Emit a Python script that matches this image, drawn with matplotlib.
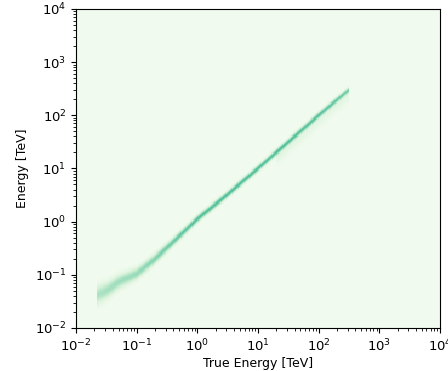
import numpy as np
import matplotlib
matplotlib.use("Agg")
import matplotlib.pyplot as plt
from matplotlib.colors import LinearSegmentedColormap

# ridge of the migration band (log10 TeV)
log_true = [-1.65, -1.5, -1.28, -1.0, -0.7, -0.4, 0.0, 0.4, 1.0, 2.0, 2.5]
log_reco = [-1.38, -1.3, -1.12, -0.98, -0.70, -0.38, 0.05, 0.42, 1.0, 2.0, 2.48]
width = [0.11, 0.10, 0.085, 0.07, 0.06, 0.05, 0.042, 0.04, 0.038, 0.038, 0.035]
peak = [0.42, 0.45, 0.48, 0.52, 0.60, 0.70, 0.80, 0.82, 0.82, 0.75, 0.65]

cmap = LinearSegmentedColormap.from_list(
    "band", ["#f1faee", "#d0efd4", "#9bdcbc", "#5ec4a3", "#3bb392"])

xe = np.linspace(-2, 4, 301)
ye = np.linspace(-2, 4, 301)
xc = 0.5 * (xe[1:] + xe[:-1])
yc = 0.5 * (ye[1:] + ye[:-1])
X, Y = np.meshgrid(xc, yc)

inside = (X >= log_true[0]) & (X <= log_true[-1])
mu = np.interp(X, log_true, log_reco)
w = np.interp(X, log_true, width)
a = np.interp(X, log_true, peak)
z = a * np.exp(-0.5 * ((Y - mu) / w) ** 2)
# faint scatter below the band at high energies
tail = np.where(X > 1.3, 0.12 * a * np.exp(-0.5 * ((Y - mu + 0.12) / 0.08) ** 2), 0)
z = np.where(inside, z + tail, 0)

fig = plt.figure(figsize=(4.48, 3.71), dpi=100)
ax = fig.add_axes([0.170, 0.116, 0.812, 0.860])
ax.pcolormesh(10 ** xe, 10 ** ye, z, cmap=cmap, vmin=0, vmax=1, rasterized=True)
ax.set_xscale("log")
ax.set_yscale("log")
ax.set_xlim(1e-2, 1e4)
ax.set_ylim(1e-2, 1e4)
ax.set_xlabel("True Energy [TeV]", fontsize=9, labelpad=2)
ax.set_ylabel("Energy [TeV]", fontsize=9)
ax.tick_params(labelsize=9.5)

fig.savefig("out.png", dpi=100)
